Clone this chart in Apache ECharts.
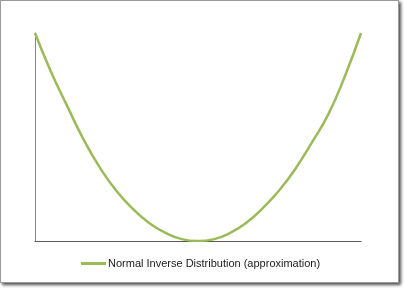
<!DOCTYPE html>
<html>
<head>
<meta charset="utf-8">
<script src="https://cdn.jsdelivr.net/npm/echarts@6/dist/echarts.min.js"></script>
<style>
  html, body { margin: 0; padding: 0; background: #fff; }
  #frame { position: absolute; left: 0; top: 0; width: 397px; height: 281px; border: 1px solid #9a9a9a; box-shadow: 2px 2px 3px rgba(0,0,0,0.7); background: #fff; }
  #chart { position: absolute; left: 0; top: 0; width: 404px; height: 288px; }
</style>
</head>
<body>
<div id="frame"></div>
<div id="chart"></div>
<script>
const seriesName = "Normal Inverse Distribution (approximation)";
const xValues = [0, 0.05, 0.10, 0.15, 0.20, 0.25, 0.30, 0.35, 0.40, 0.45, 0.50, 0.55, 0.60, 0.65, 0.70, 0.75, 0.80, 0.85, 0.90, 0.95, 1.00];
const yValues = [1.00, 0.81, 0.645, 0.485, 0.35, 0.24, 0.155, 0.087, 0.039, 0.009, 0.0, 0.009, 0.04, 0.09, 0.16, 0.245, 0.35, 0.475, 0.61, 0.79, 1.00];

const chart = echarts.init(document.getElementById('chart'), null, { renderer: 'canvas' });
chart.setOption({
  animation: false,
  backgroundColor: 'transparent',
  grid: { left: 35, top: 33, right: 43, bottom: 47, containLabel: false },
  xAxis: {
    type: 'value', min: 0, max: 1,
    axisLine: { show: true, onZero: false, lineStyle: { color: '#595959', width: 1 } },
    axisTick: { show: false }, axisLabel: { show: false }, splitLine: { show: false }
  },
  yAxis: {
    type: 'value', min: 0, max: 1,
    axisLine: { show: true, lineStyle: { color: '#868686', width: 1 } },
    axisTick: { show: false }, axisLabel: { show: false }, splitLine: { show: false }
  },
  legend: {
    left: 81, top: 258, padding: 0,
    icon: 'rect', itemWidth: 25, itemHeight: 3, itemGap: 10,
    textStyle: { fontFamily: 'Liberation Sans', fontSize: 11, color: '#1a1a1a', padding: [0, 0, 0, -3] },
    data: [seriesName]
  },
  series: [{
    name: seriesName,
    type: 'line',
    smooth: true,
    showSymbol: false,
    symbol: 'none',
    itemStyle: { color: '#9BBB59' },
    lineStyle: { color: '#9BBB59', width: 2.5 },
    data: xValues.map((x, i) => [x, yValues[i]])
  }]
});
</script>
</body>
</html>
